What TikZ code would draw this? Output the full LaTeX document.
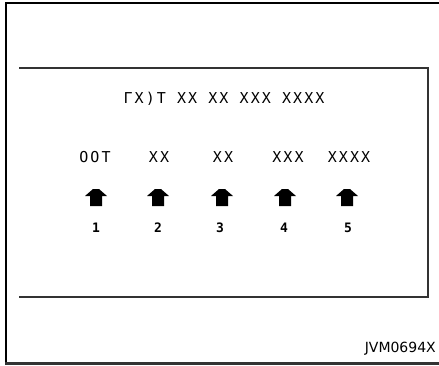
\documentclass[tikz,border=0pt]{standalone}
\usepackage{fontspec}
\setmainfont{DejaVu Sans}
\newfontfamily\dispfont[LetterSpace=14]{DejaVu Sans Mono}
\definecolor{framegray}{HTML}{333333}
\begin{document}
\begin{tikzpicture}[x=1pt,y=-1pt,
  disp/.style={font=\dispfont\fontsize{15}{15}\selectfont, inner sep=0pt, anchor=center},
  numlab/.style={font=\dispfont\bfseries\fontsize{13}{13}\selectfont, inner sep=0pt, anchor=center},
  uparr/.pic={\fill[black] (-11,-2) -- (-3,-9) -- (3,-9) -- (11,-2) -- (6,-2) -- (6,8) -- (-6,8) -- (-6,-2) -- cycle;}]
\useasboundingbox (0,0) rectangle (439,365);
% outer frame (left, top, bottom)
\draw[line width=1.3pt, black] (439,3) -- (6,3) -- (6,362.5);
\draw[line width=3pt, framegray] (5.4,363) -- (439,363);
% inner panel
\draw[line width=2pt, framegray] (19,68) -- (428,68) -- (428,296.5) -- (19,296.5);
% title
\node[disp] (title) at (224,99) {ΓX)T XX XX XXX XXXX};
% labels
\node[disp] (l1) at (95,157) {OOT};
\node[disp] (l2) at (159,157) {XX};
\node[disp] (l3) at (223,157) {XX};
\node[disp] (l4) at (288,157) {XXX};
\node[disp] (l5) at (349,157) {XXXX};
% arrows
\pic (a1) at (96,198) {uparr};
\pic (a2) at (158,198) {uparr};
\pic (a3) at (222,198) {uparr};
\pic (a4) at (285,198) {uparr};
\pic (a5) at (347,198) {uparr};
% numbers
\node[numlab] (n1) at (96,228) {1};
\node[numlab] (n2) at (158,228) {2};
\node[numlab] (n3) at (220,228) {3};
\node[numlab] (n4) at (284,228) {4};
\node[numlab] (n5) at (348,228) {5};
% code
\node[font=\fontsize{14}{14}\selectfont, inner sep=0pt, anchor=east] (code) at (436,349) {JVM0694X};
\end{tikzpicture}
\end{document}
